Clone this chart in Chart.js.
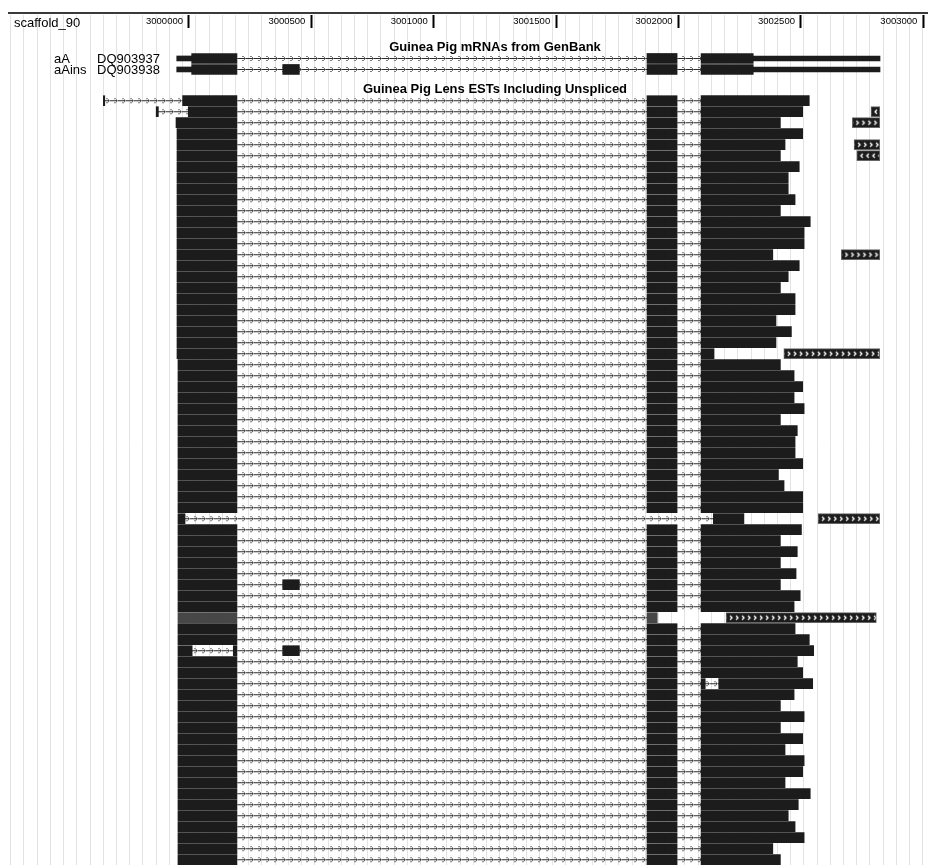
<!DOCTYPE html>
<html>
<head>
<meta charset="utf-8">
<script src="https://cdn.jsdelivr.net/npm/chart.js@4.4.1/dist/chart.umd.min.js"></script>
<style>
  html, body { margin: 0; padding: 0; background: #fff; }
  #wrap { position: relative; width: 928px; height: 865px; overflow: hidden; font-family: Arial, "Liberation Sans", sans-serif; }
  #wrap canvas { position: absolute; left: 0; top: 0; }
  .rule { position: absolute; left: 8px; top: 12px; width: 920px; height: 2px; background: #3a3a3a; }
  .txt { position: absolute; white-space: nowrap; color: #000; font-size: 13px; line-height: 13px; }
  .title { position: absolute; white-space: nowrap; font-weight: bold; font-size: 13px; line-height: 13px; transform: translateX(-50%); }
</style>
</head>
<body>
<div id="wrap">
  <canvas id="browser" width="928" height="865"></canvas>
  <div class="rule"></div>
  <div class="txt" style="left:14px; top:16px;">scaffold_90</div>
  <div class="title" style="left:495px; top:40px;">Guinea Pig mRNAs from GenBank</div>
  <div class="txt" style="left:54px; top:52px;">aA</div>
  <div class="txt" style="left:97px; top:52px;">DQ903937</div>
  <div class="txt" style="left:54px; top:63px;">aAins</div>
  <div class="txt" style="left:97px; top:63px;">DQ903938</div>
  <div class="title" style="left:495px; top:82px;">Guinea Pig Lens ESTs Including Unspliced</div>
</div>
<script>
// ruler
const rulerTicks = [3000000, 3000500, 3001000, 3001500, 3002000, 3002500, 3003000];
const viewStart = 2999228;
const viewEnd = 3003019;
const guideFirst = 2999272;
const guideStep = 54;

// mRNA track (two rows above the ESTs)
const mrnaRows = [-3.84, -2.84];
const mrnaCds = [
  [[3000011, 3000196], [3001871, 3001994], [3002092, 3002305]],
  [[3000011, 3000196], [3000383, 3000451], [3001871, 3001994], [3002092, 3002305]]
];
const mrnaUtr = [[2999950, 3000011], [3002305, 3002823]];

// EST track: shared exon bounds
const exon1End = 3000196;
const exon2 = [3001871, 3001994];
const exon3Start = 3002092;

// per row first exon start / last exon end (null = odd row below)
const estStart = [
  2999974, 2999997, 2999947, 2999951, 2999951, 2999951, 2999951, 2999951, 2999951, 2999951,
  2999951, 2999951, 2999951, 2999951, 2999951, 2999951, 2999951, 2999951, 2999951, 2999951,
  2999951, 2999951, 2999951, 2999951, 2999955, 2999955, 2999955, 2999955, 2999955, 2999955,
  2999955, 2999955, 2999955, 2999955, 2999955, 2999955, 2999955, 2999955, null, 2999955,
  2999955, 2999955, 2999955, 2999955, 2999955, 2999955, 2999955, null, 2999955, 2999955,
  null, 2999955, 2999955, null, 2999955, 2999955, 2999955, 2999955, 2999955, 2999955,
  2999955, 2999955, 2999955, 2999955, 2999955, 2999955, 2999955, 2999955, 2999955, 2999955
];
const estEnd = [
  3002534, 3002507, 3002416, 3002507, 3002435, 3002416, 3002493, 3002448, 3002448, 3002476,
  3002416, 3002538, 3002513, 3002513, 3002385, 3002493, 3002448, 3002416, 3002476, 3002476,
  3002398, 3002461, 3002398, 3002145, 3002416, 3002472, 3002507, 3002472, 3002513, 3002416,
  3002485, 3002476, 3002476, 3002507, 3002408, 3002431, 3002507, 3002507, null, 3002502,
  3002416, 3002485, 3002416, 3002480, 3002416, 3002497, 3002472, null, 3002476, 3002534,
  null, 3002485, 3002507, null, 3002472, 3002416, 3002513, 3002416, 3002507, 3002435,
  3002513, 3002507, 3002435, 3002538, 3002489, 3002448, 3002476, 3002513, 3002385, 3002416
];
// extra small exons: [row, start, end]
const estExtra = [[0, 2999650, 2999656], [1, 2999866, 2999875], [44, 3000383, 3000451]];
// rows with their own layout
const estOdd = {
  38: [[2999955, 2999984], [3002142, 3002267]],
  50: [[2999955, 3000013], [3000181, 3000196], [3000383, 3000451], [3001871, 3001994], [3002092, 3002552]],
  53: [[2999955, 3000196], [3001871, 3001994], [3002092, 3002109], [3002164, 3002548]]
};
const estFaint = { 47: [[2999955, 3000196], [3001871, 3001913]] };

// unspliced ESTs packed at the right end of rows
const unsplicedRow = [1, 2, 4, 5, 14, 23, 38, 47];
const unsplicedStart = [3002786, 3002710, 3002717, 3002728, 3002665, 3002430, 3002570, 3002194];
const unsplicedEnd = [3002822, 3002822, 3002822, 3002822, 3002822, 3002822, 3002822, 3002808];
const unsplicedStrand = ['-', '+', '+', '-', '+', '+', '+', '+'];

Chart.defaults.font.family = 'Arial, "Liberation Sans", sans-serif';

const exonData = [], faintData = [], utrData = [], intronData = [], fwdData = [], revData = [];

function addRow(row, blocks, target) {
  const sorted = blocks.slice().sort((a, b) => a[0] - b[0]);
  sorted.forEach((b, i) => {
    target.push({ x: b, y: row });
    if (i > 0) intronData.push({ x: [sorted[i - 1][1], b[0]], y: row });
  });
}

mrnaRows.forEach((row, i) => {
  addRow(row, mrnaCds[i], exonData);
  mrnaUtr.forEach(u => utrData.push({ x: u, y: row }));
});

for (let r = 0; r < estStart.length; r++) {
  if (estFaint[r]) { addRow(r, estFaint[r], faintData); continue; }
  let blocks = estOdd[r] || [[estStart[r], exon1End], exon2, [exon3Start, estEnd[r]]];
  blocks = blocks.concat(estExtra.filter(e => e[0] === r).map(e => [e[1], e[2]]));
  addRow(r, blocks, exonData);
}

unsplicedRow.forEach((row, i) => {
  const item = { x: [unsplicedStart[i], unsplicedEnd[i]], y: row };
  (unsplicedStrand[i] === '+' ? fwdData : revData).push(item);
});

function makeTile(w, h, draw) {
  const c = document.createElement('canvas');
  c.width = w; c.height = h;
  draw(c.getContext('2d'));
  return c;
}
// intron: dark line with small grey arrow heads
const intronTile = makeTile(8, 7, g => {
  g.fillStyle = '#2b2b2b';
  g.fillRect(0, 3, 8, 1);
  g.fillStyle = '#7a7a7a';
  g.fillRect(3, 1, 1, 1); g.fillRect(4, 2, 1, 1); g.fillRect(5, 3, 1, 1);
  g.fillRect(4, 4, 1, 1); g.fillRect(3, 5, 1, 1);
  g.fillRect(2, 1, 1, 1); g.fillRect(2, 5, 1, 1);
});
function chevronTile(dir) {
  return makeTile(6, 10, g => {
    g.fillStyle = '#1c1c1c';
    g.fillRect(0, 0, 6, 10);
    g.strokeStyle = '#fff';
    g.lineWidth = 1.3;
    g.beginPath();
    if (dir > 0) { g.moveTo(2, 3); g.lineTo(4, 5); g.lineTo(2, 7); }
    else { g.moveTo(4, 3); g.lineTo(2, 5); g.lineTo(4, 7); }
    g.stroke();
  });
}
const fwdTile = chevronTile(1);
const revTile = chevronTile(-1);

function patternFor(tile, xShift) {
  return ctx => {
    if (ctx.type !== 'data' || !ctx.raw) return '#1c1c1c';
    const chart = ctx.chart;
    const yc = chart.scales.y.getPixelForValue(ctx.raw.y);
    const x0 = xShift ? chart.scales.x.getPixelForValue(ctx.raw.x[0]) + 2 : 0;
    const p = chart.ctx.createPattern(tile, 'repeat');
    p.setTransform(new DOMMatrix().translate(x0, yc - tile.height / 2));
    return p;
  };
}

const tickSet = new Set(rulerTicks);
for (let v = guideFirst; v <= viewEnd; v += guideStep) tickSet.add(v);
const tickValues = [...tickSet].sort((a, b) => a - b);
const isRuler = v => rulerTicks.includes(v);

const bar = (label, data, color, thickness) => ({
  label, data, backgroundColor: color, barThickness: thickness,
  grouped: false, borderWidth: 0, borderSkipped: false
});

new Chart(document.getElementById('browser'), {
  type: 'bar',
  data: {
    datasets: [
      bar('exons', exonData, '#1c1c1c', 10),
      bar('low score exons', faintData, '#474747', 10),
      bar('UTR', utrData, '#1c1c1c', 5),
      Object.assign(bar('unspliced +', fwdData, patternFor(fwdTile, true), 10), { borderWidth: 1, borderColor: '#666' }),
      Object.assign(bar('unspliced -', revData, patternFor(revTile, true), 10), { borderWidth: 1, borderColor: '#666' }),
      bar('introns', intronData, patternFor(intronTile, false), 7)
    ]
  },
  options: {
    indexAxis: 'y',
    responsive: false,
    animation: false,
    layout: { padding: 0 },
    plugins: { legend: { display: false }, tooltip: { enabled: false }, title: { display: false } },
    scales: {
      x: {
        type: 'linear',
        position: 'top',
        min: viewStart,
        max: viewEnd,
        border: { display: false },
        afterBuildTicks: axis => { axis.ticks = tickValues.map(v => ({ value: v })); },
        afterFit: axis => { axis.height = 28; },
        grid: {
          drawTicks: true,
          tickLength: 13,
          lineWidth: 1,
          color: ctx => (ctx.tick && isRuler(ctx.tick.value)) ? 'rgba(0,0,0,0)' : '#e3e3e3',
          tickColor: ctx => (ctx.tick && isRuler(ctx.tick.value)) ? '#000' : '#e3e3e3',
          tickWidth: ctx => (ctx.tick && isRuler(ctx.tick.value)) ? 2 : 1
        },
        ticks: {
          autoSkip: false,
          maxRotation: 0,
          minRotation: 0,
          align: 'end',
          labelOffset: -6,
          padding: -12,
          color: '#000',
          font: { size: 9.5 },
          callback: v => isRuler(v) ? String(v) : ''
        }
      },
      y: {
        type: 'linear',
        display: false,
        reverse: true,
        offset: false,
        min: -6.609,
        max: 69.482
      }
    }
  }
});
</script>
</body>
</html>
